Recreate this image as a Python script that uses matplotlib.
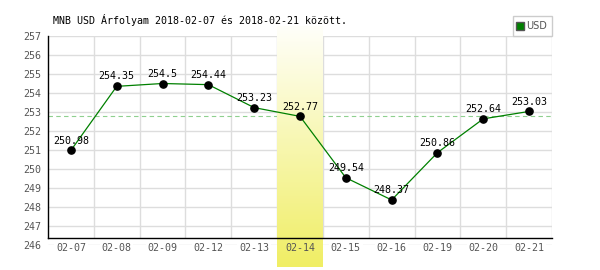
import numpy as np
import matplotlib
matplotlib.use("Agg")
import matplotlib.pyplot as plt
from matplotlib.lines import Line2D

# ---- data ----
dates = ["02-07", "02-08", "02-09", "02-12", "02-13", "02-14",
         "02-15", "02-16", "02-19", "02-20", "02-21"]
usd = [250.98, 254.35, 254.5, 254.44, 253.23, 252.77,
       249.54, 248.37, 250.86, 252.64, 253.03]
y_ticks = list(range(246, 258))
highlight = "02-14"
title = "MNB USD Árfolyam 2018-02-07 és 2018-02-21 között."
series_name = "USD"

mono = "DejaVu Sans Mono"
grid_c = "#dddddd"
lab_c = "#555555"
fs = 7.2

fig = plt.figure(figsize=(6, 2.7), dpi=100)
ax = fig.add_axes([48/600, 25/270, 504/600, 209/270])
x = np.arange(len(dates))

axis_frac = 7/209
floor_val = y_ticks[0] + axis_frac * (y_ticks[-1] - y_ticks[0])

# grid (manual so the band can sit between grid and labels)
ax.hlines(y_ticks, -0.5, len(dates) - 0.5, colors=grid_c, lw=1, zorder=1)
ax.vlines(list(x[:-1] + 0.5) + [len(dates) - 0.5], floor_val, y_ticks[-1],
          colors=grid_c, lw=1, zorder=1)

# highlighted-day value reference line
hi = dates.index(highlight)
ax.axhline(usd[hi], color="#8fd08f", lw=0.8, ls=(0, (4, 3)), zorder=1.1)

# gradient band
grad = np.linspace(0, 1, 256)[:, None]
top_c = np.array([255, 255, 250]) / 255
bot_c = np.array([240, 238, 100]) / 255
img = top_c[None, None, :] * (1 - grad[..., None]) + bot_c[None, None, :] * grad[..., None]
upp = (y_ticks[-1] - y_ticks[0]) / 209
ax.imshow(img, extent=[hi - 0.5, hi + 0.5, y_ticks[0] - 22 * upp, y_ticks[-1] + 10 * upp],
          aspect="auto", zorder=1.2, clip_on=False, interpolation="bilinear")
ax.set_xlim(-0.5, len(dates) - 0.5)
ax.set_ylim(y_ticks[0], y_ticks[-1])

# data
ax.plot(x, usd, color="#008000", lw=0.9, zorder=3)
ax.plot(x, usd, "o", color="black", ms=5.2, zorder=4)
for xi, v in zip(x, usd):
    ax.annotate(f"{v:g}", (xi, v), xytext=(0, 3.5), textcoords="offset points",
                ha="center", va="bottom", fontsize=fs, family=mono, color="black", zorder=5)

# axes styling
for s in ["top", "right"]:
    ax.spines[s].set_visible(False)
ax.spines["bottom"].set_position(("axes", axis_frac))
ax.spines["left"].set_bounds(floor_val, y_ticks[-1])
for s in ["bottom", "left"]:
    ax.spines[s].set_color("black")
    ax.spines[s].set_linewidth(1.0)
    ax.spines[s].set_zorder(2.5)

ax.set_xticks(x)
ax.set_xticklabels(dates, family=mono, fontsize=fs, color=lab_c)
ax.set_yticks(y_ticks)
ax.set_yticklabels([str(t) for t in y_ticks], family=mono, fontsize=fs, color=lab_c)
ax.tick_params(axis="both", length=0)
ax.tick_params(axis="x", pad=3.5)
ax.tick_params(axis="y", pad=5)
for i, lab in enumerate(ax.get_xticklabels()):
    if i != hi:
        lab.set_bbox(dict(facecolor="white", edgecolor="none", pad=1.2))
ax.xaxis.set_zorder(1.5)
ax.yaxis.set_zorder(1.5)

# legend
h = Line2D([], [], marker="s", ls="none", markerfacecolor="#008000",
           markeredgecolor="#555555", markersize=6)
leg = ax.legend([h], [series_name], loc="lower right", bbox_to_anchor=(1, 1),
                borderaxespad=0, fancybox=False, framealpha=1, edgecolor="#cccccc",
                prop={"family": "DejaVu Sans", "size": 7}, handlelength=0.6,
                handletextpad=0.3, borderpad=0.5)
for t in leg.get_texts():
    t.set_color(lab_c)

fig.text(53/600, 1 - 20/270, title, family=mono, fontsize=fs, color="black", va="center")

fig.savefig("out.png", dpi=100)
